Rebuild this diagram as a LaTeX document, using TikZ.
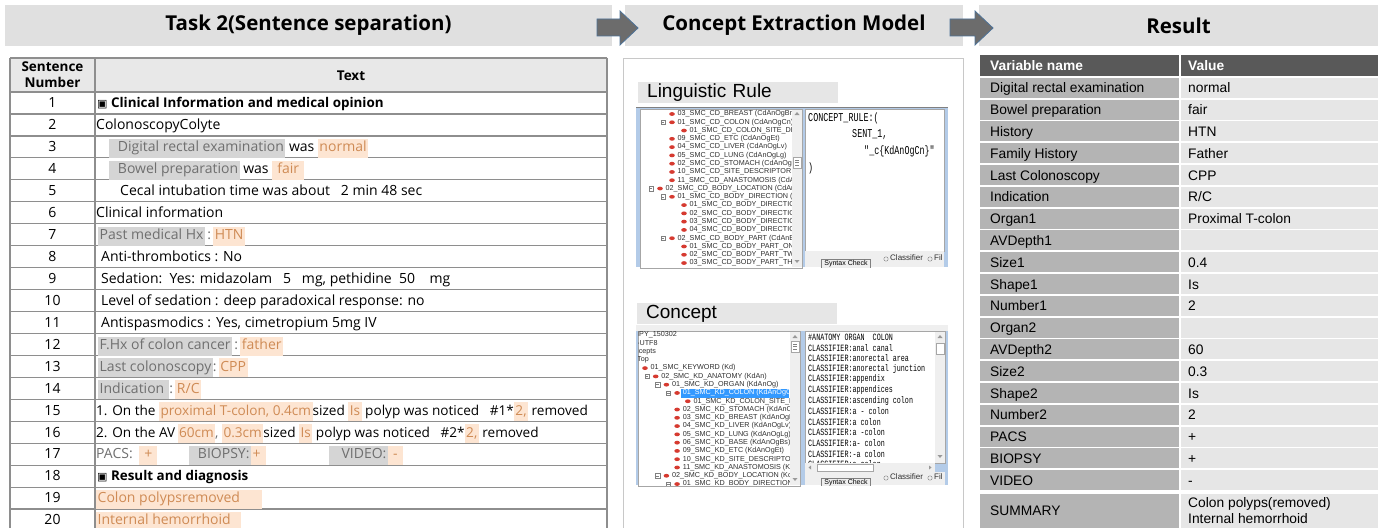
\documentclass[tikz,border=0pt]{standalone}
\usepackage{fontspec}
\usetikzlibrary{positioning}
\setmainfont{Open Sans}
\newfontfamily\arialfont{Liberation Sans}
\newfontfamily\symfont{DejaVu Sans}
\setmonofont[FakeStretch=0.7]{Liberation Mono}

\definecolor{barfill}{HTML}{E0E0E0}
\definecolor{arrowfill}{HTML}{6C6C6C}
\definecolor{arrowedge}{HTML}{4E7399}
\definecolor{headfill}{HTML}{E8E8E8}
\definecolor{gridline}{HTML}{8E8E8E}
\definecolor{keybg}{HTML}{D5D5D5}
\definecolor{keyfg}{HTML}{6F6F6F}
\definecolor{valbg}{HTML}{FDE5D2}
\definecolor{valfg}{HTML}{CF8B55}
\definecolor{darkhead}{HTML}{595959}
\definecolor{namecell}{HTML}{B4B4B4}
\definecolor{valcell}{HTML}{E6E6E6}
\definecolor{panelline}{HTML}{C8C8C8}
\definecolor{labelbg}{HTML}{E6E6E6}
\definecolor{winblue}{HTML}{B3CBE8}
\definecolor{selblue}{HTML}{3399FF}
\definecolor{iconred}{HTML}{D63A30}
\definecolor{wingray}{HTML}{EFEFEF}
\definecolor{treefg}{HTML}{303030}

\setlength{\fboxsep}{1.5pt}
\newcommand{\keyhl}[1]{\colorbox{keybg}{\color{keyfg}\strut#1}}
\newcommand{\valhl}[1]{\colorbox{valbg}{\color{valfg}\strut#1}}
\newcommand{\boxmark}{{\symfont\fontsize{11}{12}\selectfont\char"25A3}}

\tikzstyle{hdrbar} = [fill=barfill, minimum height=41pt, inner sep=0pt, font=\bfseries\fontsize{20.5}{24}\selectfont]
\tikzstyle{blockarrow} = [fill=arrowfill, draw=arrowedge, line width=0.8pt]
\tikzstyle{rowline} = [draw=gridline, line width=1.2pt]
\tikzstyle{colhead} = [inner sep=0pt, align=center, font=\bfseries\fontsize{13.5}{16}\selectfont]
\tikzstyle{numcell} = [anchor=base, inner sep=0pt, font=\fontsize{14}{16}\selectfont]
\tikzstyle{txtcell} = [anchor=base west, inner sep=0pt, font=\fontsize{14}{16}\selectfont]
\tikzstyle{polypcell} = [txtcell, font=\fontsize{13.6}{16}\selectfont]
\tikzstyle{sectcell} = [txtcell, font=\fontsize{13.4}{16}\selectfont]
\tikzstyle{rescell} = [anchor=base west, inner sep=0pt, font=\arialfont\fontsize{13.8}{16}\selectfont]
\tikzstyle{reshead} = [rescell, text=white, font=\arialfont\bfseries\fontsize{13.8}{16}\selectfont]
\tikzstyle{paneltag} = [fill=labelbg, anchor=west, minimum height=21pt, inner xsep=9pt, inner ysep=0pt, text width=182pt, align=left, font=\arialfont\fontsize{19}{21}\selectfont]
\tikzstyle{treeitem} = [anchor=west, inner sep=0pt, text=treefg, font=\arialfont\fontsize{7.2}{8}\selectfont]
\tikzstyle{codeline} = [anchor=west, inner sep=0pt, font=\ttfamily\fontsize{12}{13}\selectfont]
\tikzstyle{clsline} = [anchor=west, inner sep=0pt, font=\ttfamily\fontsize{9.6}{10}\selectfont]
\tikzstyle{btn} = [draw=gray, fill=wingray, inner xsep=3pt, inner ysep=1.5pt, font=\arialfont\fontsize{7}{8}\selectfont]

\begin{document}
\begin{tikzpicture}[x=1pt, y=-1pt]
\useasboundingbox (0,0) rectangle (1383,527);

% header bars and arrows
\node[hdrbar, minimum width=607pt] (task) at (308.5,25.5) {Task 2(Sentence separation)};
\node[hdrbar, minimum width=338pt] (model) at (794,25.5) {Concept Extraction Model};
\node[hdrbar, minimum width=399pt] (result) at (1178.5,25.5) {Result};
\draw[blockarrow] (597,19) -- (620,19) -- (620,11) -- (638,28) -- (620,45) -- (620,36) -- (597,36) -- cycle;
\draw[blockarrow] (950,19) -- (975,19) -- (975,11) -- (993,28) -- (975,45) -- (975,36) -- (950,36) -- cycle;

% sentence table
\fill[headfill] (10,58) rectangle (607,92);
\draw[rowline] (10,58) -- (607,58);
\foreach \i in {0,...,20}
  \draw[rowline] (10,92+21.95*\i) -- (607,92+21.95*\i);
\foreach \x in {10,95,607}
  \draw[rowline] (\x,58) -- (\x,535);
\node[colhead] (hnum) at (52.5,75) {Sentence\\Number};
\node[colhead] (htxt) at (351,76) {Text};
\foreach \i in {1,...,20}
  \node[numcell] (num\i) at (52.5,85.8+21.95*\i) {\i};

\node[sectcell] (txt1) at (97,85.8+21.95*1) {\boxmark\ \textbf{Clinical Information and medical opinion}};
\node[txtcell] (txt2) at (96,85.8+21.95*2) {ColonoscopyColyte};
\node[txtcell] (txt3) at (109,85.8+21.95*3) {\keyhl{~~Digital rectal examination} was \valhl{normal}};
\node[txtcell] (txt4) at (109,85.8+21.95*4) {\keyhl{~~Bowel preparation} was~\valhl{~fair~}};
\node[txtcell] (txt5) at (120,85.8+21.95*5) {Cecal intubation time was about~~~2 min 48 sec};
\node[txtcell] (txt6) at (96,85.8+21.95*6) {Clinical information};
\node[txtcell] (txt7) at (98,85.8+21.95*7) {\keyhl{Past medical Hx}{\color{keyfg}\,:\,}\valhl{HTN}};
\node[txtcell] (txt8) at (101,85.8+21.95*8) {Anti-thrombotics : No};
\node[txtcell] (txt9) at (101,85.8+21.95*9) {Sedation:~~Yes: midazolam~~~5~~~mg, pethidine~~50~~~~mg};
\node[txtcell] (txt10) at (101,85.8+21.95*10) {Level of sedation : deep paradoxical response: no};
\node[txtcell] (txt11) at (101,85.8+21.95*11) {Antispasmodics : Yes, cimetropium 5mg IV};
\node[txtcell] (txt12) at (98,85.8+21.95*12) {\keyhl{F.Hx of colon cancer}{\color{keyfg}\,:\,}\valhl{father}};
\node[txtcell] (txt13) at (98,85.8+21.95*13) {\keyhl{Last colonoscopy}{\color{keyfg}:\,}\valhl{CPP}};
\node[txtcell] (txt14) at (98,85.8+21.95*14) {\keyhl{Indication~}{\color{keyfg}:\,}\valhl{R/C}};
\node[polypcell] (txt15) at (96,85.8+21.95*15) {1. On the \valhl{proximal T-colon, 0.4cm}sized \valhl{Is} polyp was noticed~~~\#1*\valhl{2,} removed};
\node[polypcell] (txt16) at (96,85.8+21.95*16) {2. On the AV\,\valhl{60cm}{\color{keyfg}, }\valhl{0.3cm}sized \valhl{Is} polyp was noticed~~~\#2*\valhl{2,} removed};
\node[txtcell, text=keyfg] (txt17) at (96,85.8+21.95*17) {PACS:};
\node[txtcell] (pacs) at (139,85.8+21.95*17) {\valhl{~+~}};
\node[txtcell] (biopsy) at (189,85.8+21.95*17) {\keyhl{~~BIOPSY:}\valhl{+~}};
\node[txtcell] (video) at (329,85.8+21.95*17) {\keyhl{~~~VIDEO:}\valhl{~-~}};
\node[sectcell] (txt18) at (97,85.8+21.95*18) {\boxmark\ \textbf{Result and diagnosis}};
\node[txtcell] (txt19) at (96,85.8+21.95*19) {\valhl{Colon polypsremoved\hspace{20pt}}};
\node[txtcell] (txt20) at (96,85.8+21.95*20) {\valhl{Internal hemorrhoid\hspace{9pt}}};

% concept extraction panel
\draw[panelline, line width=1pt] (623,59) rectangle (963,540);
\node[paneltag] (ruletag) at (638,92.5) {Linguistic Rule};
\node[paneltag] (concepttag) at (637,313.5) {Concept};

% rule editor screenshot
\fill[winblue] (636,107) rectangle (948,267);
\draw[gray] (636,107) -- (948,107);
\draw[gray!70, fill=white] (640,109) rectangle (802,268);
\fill[wingray] (792,109.5) rectangle (801.5,267);
\fill[gray!80] (794.5,115) -- (799.5,115) -- (797,112) -- cycle;
\draw[gray!70, fill=white] (793,157) rectangle (801,168);
\foreach \k in {160,162.5,165} \draw[gray] (795,\k) -- (799,\k);
\fill[gray!80] (794.5,260) -- (799.5,260) -- (797,263) -- cycle;
\begin{scope}
  \clip (640.5,109.5) rectangle (791.5,267);
  \foreach \lv/\ex/\t [count=\i] in {
    1/0/03\_SMC\_CD\_BREAST (CdAnOgBr),
    1/1/01\_SMC\_CD\_COLON (CdAnOgCn),
    2/0/01\_SMC\_CD\_COLON\_SITE\_DES,
    1/0/09\_SMC\_CD\_ETC (CdAnOgEt),
    1/0/04\_SMC\_CD\_LIVER (CdAnOgLv),
    1/0/05\_SMC\_CD\_LUNG (CdAnOgLg),
    1/0/02\_SMC\_CD\_STOMACH (CdAnOgS,
    1/0/10\_SMC\_CD\_SITE\_DESCRIPTOR (C,
    1/0/11\_SMC\_CD\_ANASTOMOSIS (CdAr,
    0/1/02\_SMC\_CD\_BODY\_LOCATION (CdAnE,
    1/1/01\_SMC\_CD\_BODY\_DIRECTION (C,
    2/0/01\_SMC\_CD\_BODY\_DIRECTION\_,
    2/0/02\_SMC\_CD\_BODY\_DIRECTION\_,
    2/0/03\_SMC\_CD\_BODY\_DIRECTION\_,
    2/0/04\_SMC\_CD\_BODY\_DIRECTION\_,
    1/1/02\_SMC\_CD\_BODY\_PART (CdAnBl,
    2/0/01\_SMC\_CD\_BODY\_PART\_ONE,
    2/0/02\_SMC\_CD\_BODY\_PART\_TWO,
    2/0/03\_SMC\_CD\_BODY\_PART\_THRE} {
    \pgfmathsetmacro\ix{660+12*\lv}
    \pgfmathsetmacro\iy{114+8.28*(\i-1)}
    \fill[iconred] (\ix,\iy) ellipse (2.8 and 1.9);
    \node[treeitem] (rtree\i) at (\ix+5.5,\iy) {\t};
    \ifnum\ex=1
      \draw[gray, fill=white] (\ix-11,\iy-2.2) rectangle (\ix-6.6,\iy+2.2);
      \draw[gray] (\ix-10,\iy) -- (\ix-7.6,\iy);
    \fi
  }
\end{scope}
\draw[gray!70, fill=white] (805,109) rectangle (944,251);
\node[codeline] (rule1) at (808,118) {CONCEPT\_RULE:(};
\node[codeline] (rule2) at (852,135) {SENT\_1,};
\node[codeline] (rule3) at (864,151) {"\_c\{KdAnOgCn\}"};
\node[codeline] (rule4) at (808,168) {)};
\begin{scope}
  \clip (805,251) rectangle (944,267);
  \fill[wingray] (805,251) rectangle (944,267);
  \node[btn] (check1) at (846,264) {Syntax Check};
  \draw[gray] (886,259) circle (2.2);
  \node[treeitem, font=\arialfont\fontsize{8}{9}\selectfont] (cls1) at (890,258) {Classifier};
  \draw[gray] (930,259) circle (2.2);
  \node[treeitem, font=\arialfont\fontsize{8}{9}\selectfont] (fil1) at (934,258) {Fil};
\end{scope}

% concept dictionary screenshot
\fill[winblue] (636,325) rectangle (948,485);
\fill[wingray] (636,325) rectangle (948,331);
\draw[gray!70, fill=white] (638,331) rectangle (800,486);
\fill[wingray] (790,331.5) rectangle (799.5,485);
\fill[gray!80] (792.5,338) -- (797.5,338) -- (795,335) -- cycle;
\draw[gray!70, fill=white] (791,341) rectangle (799,352);
\foreach \k in {344,346.5,349} \draw[gray] (793,\k) -- (797,\k);
\fill[gray!80] (792.5,478) -- (797.5,478) -- (795,481) -- cycle;
\fill[selblue] (681,389) rectangle (789,397.5);
\begin{scope}
  \clip (638.5,331.5) rectangle (789.5,485);
  \foreach \lv/\ex/\t [count=\i] in {
    -1/0/IPY\_150302,
    -1/0/-UTF8,
    -1/0/icepts,
    -1/0/Top,
    0/0/01\_SMC\_KEYWORD (Kd),
    1/1/02\_SMC\_KD\_ANATOMY (KdAn),
    2/1/01\_SMC\_KD\_ORGAN (KdAnOg),
    3/1/01\_SMC\_KD\_COLON (KdAnOgCn),
    4/0/01\_SMC\_KD\_COLON\_SITE\_DES,
    3/0/02\_SMC\_KD\_STOMACH (KdAnOgSt,
    3/0/03\_SMC\_KD\_BREAST (KdAnOgBr),
    3/0/04\_SMC\_KD\_LIVER (KdAnOgLv),
    3/0/05\_SMC\_KD\_LUNG (KdAnOgLg),
    3/0/06\_SMC\_KD\_BASE (KdAnOgBs),
    3/0/09\_SMC\_KD\_ETC (KdAnOgEt),
    3/0/10\_SMC\_KD\_SITE\_DESCRIPTOR (K,
    3/0/11\_SMC\_KD\_ANASTOMOSIS (KdAn,
    2/1/02\_SMC\_KD\_BODY\_LOCATION (KdAnE,
    3/1/01\_SMC\_KD\_BODY\_DIRECTION (Kd} {
    \pgfmathsetmacro\ix{645+10.7*\lv}
    \pgfmathsetmacro\iy{335+8.28*(\i-1)}
    \ifnum\i=8 \def\tc{white}\else\def\tc{treefg}\fi
    \ifnum\lv<0
      \node[treeitem] (ctree\i) at (637,\iy) {\t};
    \else
      \fill[iconred] (\ix,\iy) ellipse (2.8 and 1.9);
      \node[treeitem, text=\tc] (ctree\i) at (\ix+5.5,\iy) {\t};
    \fi
    \ifnum\ex=1
      \draw[gray, fill=white] (\ix-11,\iy-2.2) rectangle (\ix-6.6,\iy+2.2);
      \draw[gray] (\ix-10,\iy) -- (\ix-7.6,\iy);
    \fi
  }
\end{scope}
\draw[gray!70, fill=white] (805,331) rectangle (945,463);
\fill[wingray] (935,331.5) rectangle (944.5,463);
\fill[gray!80] (937.5,338) -- (942.5,338) -- (940,335) -- cycle;
\draw[gray!70, fill=white] (936,343) rectangle (944,354);
\fill[gray!80] (937.5,455) -- (942.5,455) -- (940,458) -- cycle;
\begin{scope}
  \clip (805.5,331.5) rectangle (934.5,463);
  \foreach \t [count=\i] in {\#ANATOMY ORGAN~~COLON, CLASSIFIER:anal canal,
    CLASSIFIER:anorectal area, CLASSIFIER:anorectal junction, CLASSIFIER:appendix,
    CLASSIFIER:appendices, CLASSIFIER:ascending colon, CLASSIFIER:a - colon,
    CLASSIFIER:a colon, CLASSIFIER:a -colon, CLASSIFIER:a- colon,
    CLASSIFIER:-a colon, CLASSIFIER:a colon}
    \node[clsline] (cls\i) at (808,337+10.6*\i-10.6) {\t};
\end{scope}
\fill[wingray] (805,463) rectangle (935,472);
\draw[gray!70, fill=white] (817,464) rectangle (873,471);
\fill[gray!80] (811,465.5) -- (811,469.5) -- (808.5,467.5) -- cycle;
\fill[gray!80] (929,465.5) -- (929,469.5) -- (931.5,467.5) -- cycle;
\begin{scope}
  \clip (805,472) rectangle (945,485);
  \fill[wingray] (805,472) rectangle (945,485);
  \node[btn] (check2) at (846,483) {Syntax Check};
  \draw[gray] (886,478) circle (2.2);
  \node[treeitem, font=\arialfont\fontsize{8}{9}\selectfont] (cls2) at (890,477) {Classifier};
  \draw[gray] (930,478) circle (2.2);
  \node[treeitem, font=\arialfont\fontsize{8}{9}\selectfont] (fil2) at (934,477) {Fil};
\end{scope}

% result table
\fill[darkhead] (980,55) rectangle (1179,76);
\fill[darkhead] (1181,55) rectangle (1378,76);
\node[reshead] (vname) at (990,70.5) {Variable name};
\node[reshead] (vvalue) at (1188,70.5) {Value};
\foreach \nm/\vl [count=\i] in {Digital rectal examination/normal, Bowel preparation/fair,
  History/HTN, Family History/Father, Last Colonoscopy/CPP, Indication/{R/C},
  Organ1/Proximal T-colon, AVDepth1/{}, Size1/0.4, Shape1/Is, Number1/2, Organ2/{},
  AVDepth2/60, Size2/0.3, Shape2/Is, Number2/2, PACS/+, BIOPSY/+, VIDEO/-} {
  \fill[namecell] (980,56+21.8*\i) rectangle (1179,76+21.8*\i);
  \fill[valcell] (1181,56+21.8*\i) rectangle (1378,76+21.8*\i);
  \node[rescell] (name\i) at (990,71+21.8*\i) {\nm};
  \node[rescell] (val\i) at (1188,71+21.8*\i) {\vl};
}
\fill[namecell] (980,493.8) rectangle (1179,530);
\fill[valcell] (1181,493.8) rectangle (1378,530);
\node[rescell] (name20) at (990,515) {SUMMARY};
\node[rescell] (val20) at (1188,507) {Colon polyps(removed)};
\node[rescell] (val21) at (1188,523) {Internal hemorrhoid};
\end{tikzpicture}
\end{document}
